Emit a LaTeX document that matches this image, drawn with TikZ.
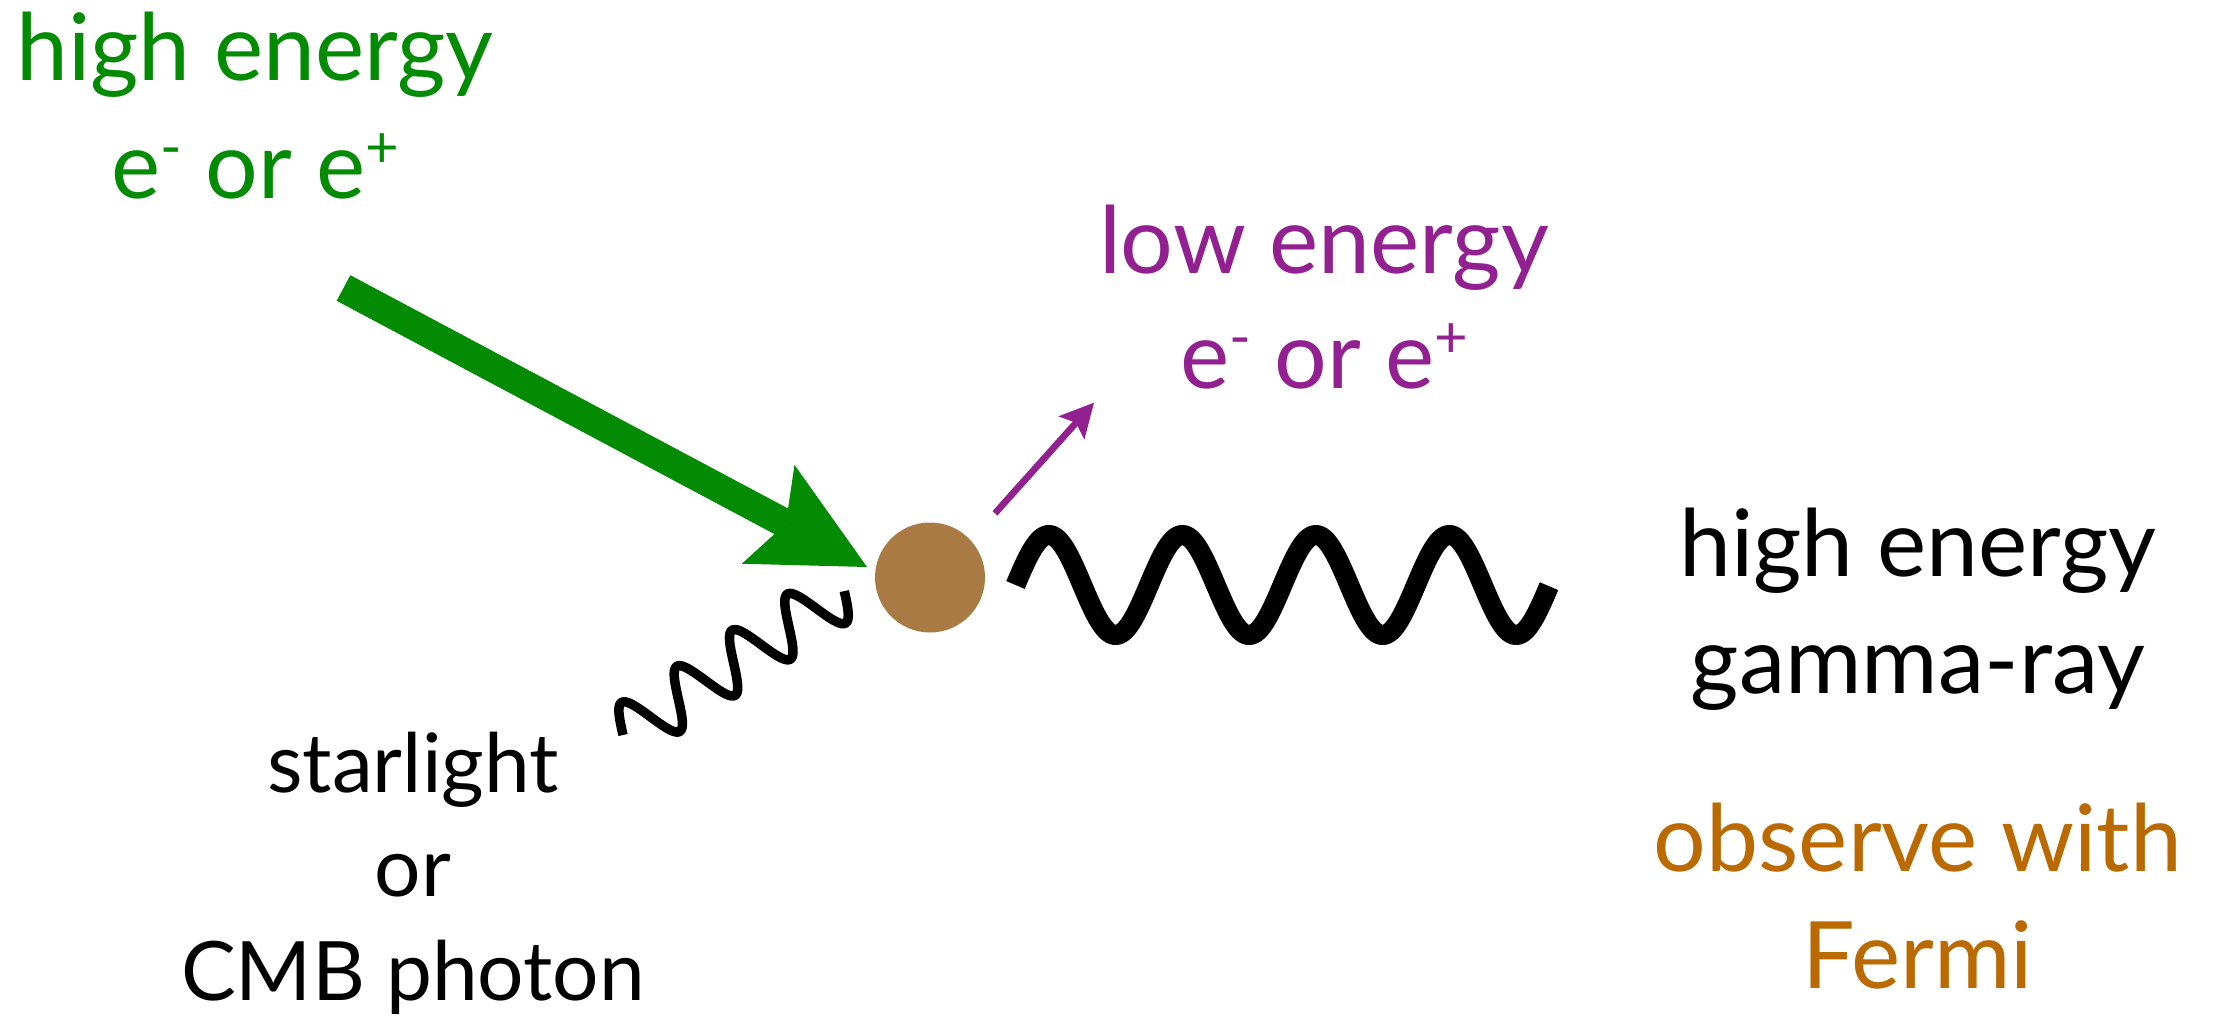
\documentclass[tikz,border=0pt]{standalone}
\usepackage{fontspec}
\setmainfont{Lato}
\usetikzlibrary{arrows.meta}
\definecolor{hegreen}{RGB}{4,139,4}
\definecolor{lepurple}{RGB}{146,32,144}
\definecolor{fermiorange}{RGB}{186,106,0}
\definecolor{hitbrown}{RGB}{169,122,67}
\newcommand\supsign[1]{\raisebox{31pt}{\fontsize{58}{58}\selectfont #1}}
\tikzset{
  label93/.style={align=center, anchor=base, inner sep=0pt,
    font=\fontsize{93}{117}\selectfont},
  bigarrow/.style={draw=hegreen, line width=29pt,
    -{Stealth[length=112pt, width=112pt, inset=20pt, line width=0pt, fill=hegreen]}},
  smallarrow/.style={draw=lepurple, line width=6.7pt,
    -{Stealth[length=34pt, width=35pt, inset=7pt, line width=0pt, fill=lepurple]}},
  photon/.style={draw=black, line cap=butt, smooth}
}
\begin{document}
\begin{tikzpicture}[x=1pt, y=-1pt]
\useasboundingbox (0,0) rectangle (2214,1019);
% texts (anchor = baseline of the last line)
\node[label93, text=hegreen, font=\fontsize{93}{118}\selectfont] (hein) at (255,199) {high energy\\e\supsign{-} or e\supsign{+}};
\node[label93, text=lepurple, font=\fontsize{93}{115}\selectfont] (leout) at (1324,388) {low energy\\e\supsign{-} or e\supsign{+}};
\node[label93] (gamma) at (1918,693) {high energy\\gamma-ray};
\node[label93, text=fermiorange] (fermi) at (1918,988.7) {observe with\\Fermi};
\node[label93, font=\fontsize{82}{104}\selectfont] (star) at (413,1000) {starlight\\or\\CMB photon};
% scattering point
\node[circle, fill=hitbrown, minimum size=110pt, inner sep=0pt] (hit) at (930,577.5) {};
% incoming electron
\coordinate (gstart) at (343.5,288);
\coordinate (gtip) at (867,567);
\draw[bigarrow] (gstart) -- (gtip);
% outgoing electron
\coordinate (pstart) at (995,513.3);
\coordinate (ptip) at (1094,402.7);
\draw[smallarrow] (pstart) -- (ptip);
% low energy photon
\draw[photon, line width=9.5pt] plot[domain=0:4, samples=240]
  ({623+55.29*\x-15.32*sin(360*\x)},{735-36.12*\x-23.46*sin(360*\x)});
% high energy photon
\draw[photon, line width=20pt] plot[domain=0:4, samples=320]
  ({1015.5+133.5*\x},{585-50*sin(360*\x)});
\end{tikzpicture}
\end{document}
